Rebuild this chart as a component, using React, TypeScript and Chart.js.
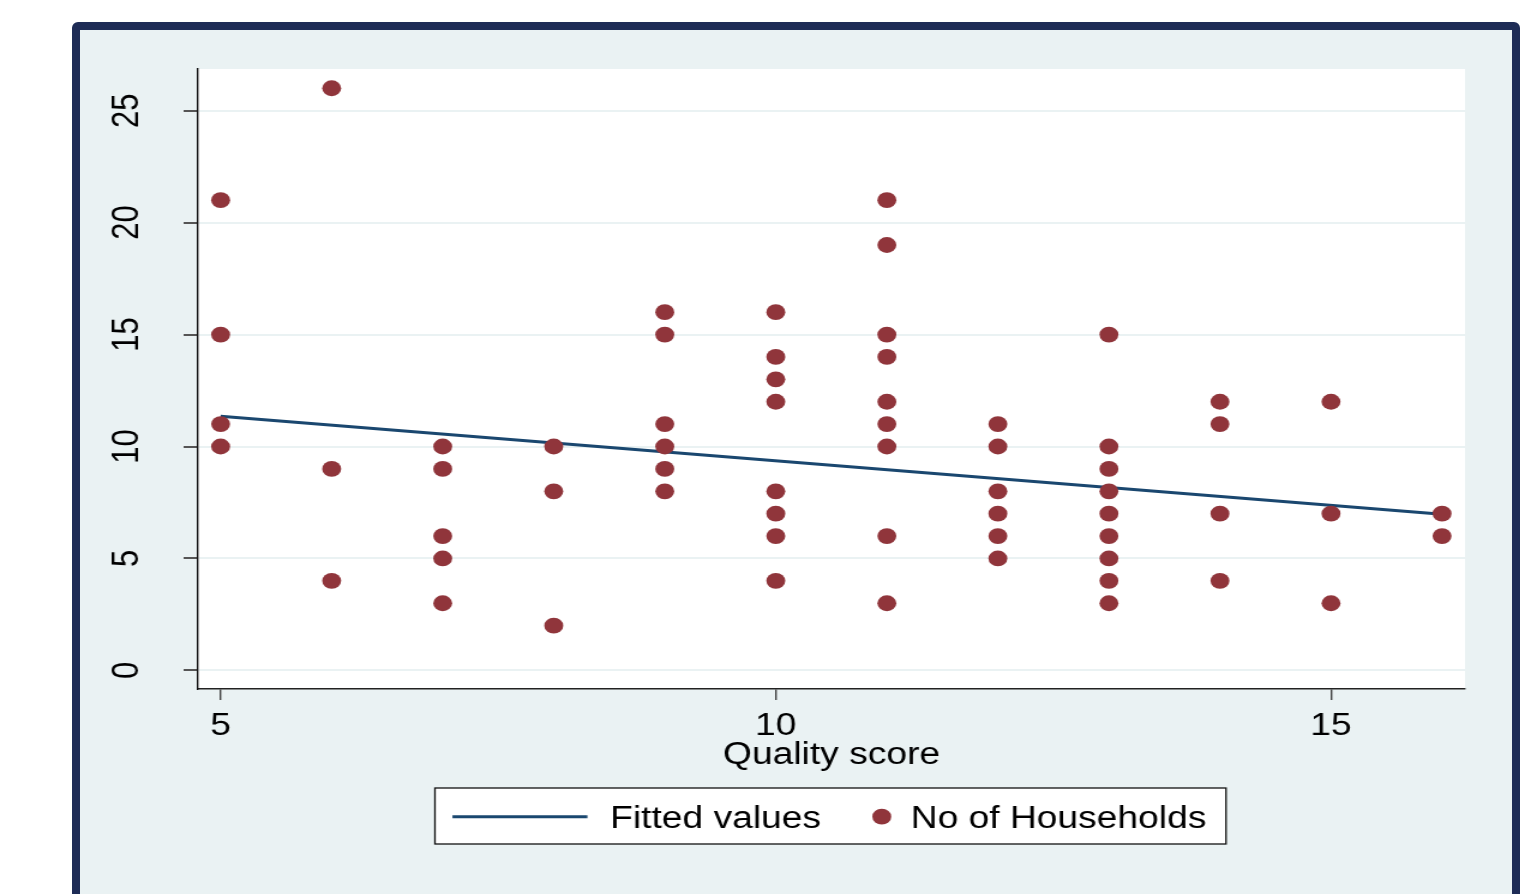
import React, { useEffect, useRef } from 'react';
import { Chart, registerables } from 'chart.js';

Chart.register(...registerables);

// ---- data ----
const xTicks = [5, 10, 15];
const yTicks = [0, 5, 10, 15, 20, 25];
const qualityScore = [
  5, 5, 5, 5,
  6, 6, 6,
  7, 7, 7, 7, 7,
  8, 8, 8,
  9, 9, 9, 9, 9, 9,
  10, 10, 10, 10, 10, 10, 10, 10,
  11, 11, 11, 11, 11, 11, 11, 11, 11,
  12, 12, 12, 12, 12, 12,
  13, 13, 13, 13, 13, 13, 13, 13, 13,
  14, 14, 14, 14,
  15, 15, 15,
  16, 16,
];
const households = [
  21, 15, 11, 10,
  26, 9, 4,
  10, 9, 6, 5, 3,
  10, 8, 2,
  16, 15, 11, 10, 9, 8,
  16, 14, 13, 12, 8, 7, 6, 4,
  21, 19, 15, 14, 12, 11, 10, 6, 3,
  11, 10, 8, 7, 6, 5,
  15, 10, 9, 8, 7, 6, 5, 4, 3,
  12, 11, 7, 4,
  12, 7, 3,
  7, 6,
];
const fittedX = [5, 16];
const fittedY = [11.35, 6.97];
const legendLabels = ['Fitted values', 'No of Households'];
const xTitle = 'Quality score';

// ---- styling ----
const W = 1531;
const H = 894;
const CW = 1276; // canvas width before horizontal stretch
const SX = W / CW;
const FONT = "'Liberation Sans', Arial, Helvetica, sans-serif";
const FS = 31;
const NAVY = '#1A476F';
const MAROON = '#90353B';
const BG = '#EAF2F3';

export default function App() {
  const ref = useRef<HTMLCanvasElement | null>(null);

  useEffect(() => {
    document.body.style.margin = '0';
    const canvas = ref.current;
    if (!canvas) return;

    const plotBg = {
      id: 'plotBg',
      beforeDraw(chart: any) {
        const { ctx, chartArea: a } = chart;
        ctx.save();
        ctx.fillStyle = '#ffffff';
        ctx.fillRect(a.left, a.top, a.right - a.left, a.bottom - a.top);
        ctx.restore();
      },
    };

    const yLabels = {
      id: 'yLabels',
      afterDraw(chart: any) {
        const { ctx } = chart;
        const ys = chart.scales.y;
        ctx.save();
        ctx.fillStyle = '#000';
        ctx.font = `${FS}px ${FONT}`;
        ctx.textAlign = 'center';
        ctx.textBaseline = 'alphabetic';
        yTicks.forEach((v) => {
          const py = ys.getPixelForValue(v);
          ctx.save();
          ctx.translate(115.3, py);
          ctx.rotate(-Math.PI / 2);
          ctx.fillText(String(v), 0, 0);
          ctx.restore();
        });
        ctx.restore();
      },
    };

    const legendBox = {
      id: 'legendBox',
      afterDraw(chart: any) {
        const { ctx } = chart;
        ctx.save();
        const bx = 362.5, by = 788, bw = 1021.8 - 362.5, bh = 56;
        ctx.fillStyle = '#ffffff';
        ctx.fillRect(bx, by, bw, bh);
        ctx.strokeStyle = '#111';
        ctx.lineWidth = 1.3;
        ctx.strokeRect(bx, by, bw, bh);
        const cy = 816.7;
        ctx.strokeStyle = NAVY;
        ctx.lineWidth = 3;
        ctx.beginPath();
        ctx.moveTo(377.1, cy);
        ctx.lineTo(489.6, cy);
        ctx.stroke();
        ctx.fillStyle = MAROON;
        ctx.beginPath();
        ctx.arc(734.9, cy, 7.9, 0, Math.PI * 2);
        ctx.fill();
        ctx.fillStyle = '#000';
        ctx.font = `${FS}px ${FONT}`;
        ctx.textAlign = 'left';
        ctx.textBaseline = 'alphabetic';
        ctx.fillText(legendLabels[0], 508.5, 827.5);
        ctx.fillText(legendLabels[1], 759, 827.5);
        ctx.restore();
      },
    };

    const chart = new Chart(canvas, {
      type: 'scatter',
      data: {
        datasets: [
          {
            label: legendLabels[1],
            data: qualityScore.map((x, i) => ({ x, y: households[i] })),
            backgroundColor: MAROON,
            borderWidth: 0,
            pointRadius: 7.9,
            pointHoverRadius: 7.9,
          },
          {
            type: 'line',
            label: legendLabels[0],
            data: fittedX.map((x, i) => ({ x, y: fittedY[i] })),
            borderColor: NAVY,
            borderWidth: 3,
            pointRadius: 0,
            showLine: true,
            fill: false,
          } as any,
        ],
      },
      options: {
        responsive: false,
        animation: false,
        devicePixelRatio: 1,
        events: [],
        layout: { padding: { left: 0, right: CW - 1221, top: 69, bottom: 0 } },
        plugins: {
          legend: { display: false },
          tooltip: { enabled: false },
        },
        scales: {
          x: {
            type: 'linear',
            min: 4.796,
            max: 16.207,
            afterBuildTicks: (s: any) => {
              s.ticks = xTicks.map((v) => ({ value: v }));
            },
            afterFit: (s: any) => {
              s.height = H - 689;
            },
            grid: {
              drawOnChartArea: false,
              tickLength: 11,
              tickColor: '#444',
              lineWidth: 1.4,
            },
            border: { display: true, color: '#222', width: 1.6 },
            ticks: {
              color: '#000',
              font: { family: FONT, size: FS },
              padding: 8,
              maxRotation: 0,
              autoSkip: false,
            },
            title: {
              display: true,
              text: xTitle,
              color: '#000',
              font: { family: FONT, size: FS },
              padding: { top: 0, bottom: 120 },
            },
          },
          y: {
            type: 'linear',
            min: -0.83,
            max: 26.86,
            afterBuildTicks: (s: any) => {
              s.ticks = yTicks.map((v) => ({ value: v }));
            },
            afterFit: (s: any) => {
              s.width = 165;
            },
            grid: {
              color: BG,
              lineWidth: 2,
              tickLength: 12,
              tickColor: '#555',
            },
            border: { display: true, color: '#111', width: 1.4 },
            ticks: { display: false },
          },
        },
      },
      plugins: [plotBg, yLabels, legendBox],
    });

    return () => chart.destroy();
  }, []);

  return (
    <div style={{ position: 'fixed', left: 0, top: 0, width: W, height: H, overflow: 'hidden', background: '#fff' }}>
      <div
        style={{
          position: 'absolute',
          left: 72,
          top: 22,
          width: 1448,
          height: 920,
          boxSizing: 'border-box',
          border: '8px solid #1E2C56',
          borderRadius: 6,
          background: BG,
        }}
      />
      <canvas
        ref={ref}
        width={CW}
        height={H}
        style={{
          position: 'absolute',
          left: 0,
          top: 0,
          width: CW,
          height: H,
          transform: `scaleX(${SX})`,
          transformOrigin: '0 0',
        }}
      />
    </div>
  );
}
